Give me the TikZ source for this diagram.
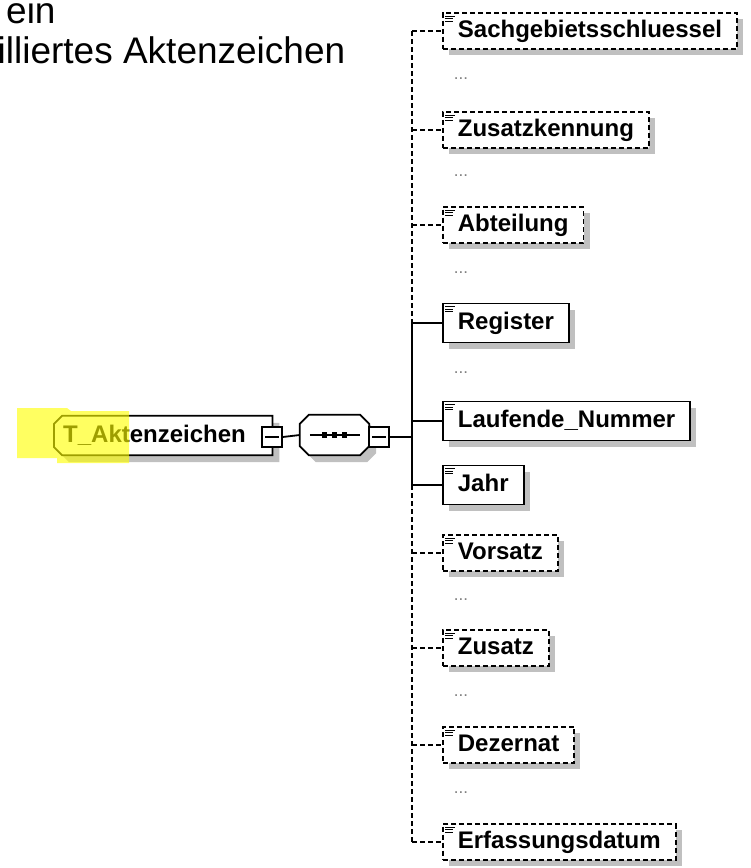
\documentclass[tikz,border=0pt]{standalone}
\usepackage{fontspec}
\setmainfont{Liberation Sans}
\usetikzlibrary{shadows,backgrounds}
\definecolor{shadowgray}{RGB}{192,192,192}
\definecolor{hlyellow}{RGB}{255,255,0}
\definecolor{dotgray}{RGB}{128,128,128}
\tikzset{
  conn/.style={line width=1.8pt},
  dconn/.style={line width=1.8pt, dash pattern=on 5pt off 3pt},
  shad/.style={drop shadow={shadow xshift=6pt, shadow yshift=-6pt, fill=shadowgray, opacity=1}},
  elembase/.style={anchor=west, fill=white, line width=1.8pt, minimum height=#1,
    inner xsep=0pt, inner ysep=0pt, text height=17pt, text depth=4pt,
    font=\bfseries\fontsize{24}{24}\selectfont, shad},
  optelem/.style={elembase=36pt, draw, dash pattern=on 5pt off 3pt},
  reqelem/.style={elembase=39pt, draw},
  dotsnode/.style={anchor=base, inner sep=0pt, text=dotgray, font=\fontsize{17}{17}\selectfont},
  titletext/.style={anchor=base west, inner sep=0pt, font=\fontsize{37}{37}\selectfont},
  rootbox/.style={minimum width=218pt, minimum height=39pt, inner sep=0pt, anchor=west,
    text height=17pt, text depth=4pt, font=\bfseries\fontsize{24}{24}\selectfont},
  seqbox/.style={minimum width=69pt, minimum height=40pt, inner sep=0pt},
  outline/.style={fill=white, draw=black, line width=1.8pt},
  rootshape/.style={insert path={([shift={(8+#1,#1)}]root.north west) -- ([shift={(#1,#1)}]root.north east)
    -- ([shift={(#1,#1)}]root.south east) -- ([shift={(8+#1,#1)}]root.south west)
    -- ([shift={(#1,-8+#1)}]root.south west) -- ([shift={(#1,8+#1)}]root.north west) -- cycle}},
  seqshape/.style={insert path={([shift={(9+#1,#1)}]seq.north west) -- ([shift={(-9+#1,#1)}]seq.north east)
    -- ([shift={(#1,9+#1)}]seq.north east) -- ([shift={(#1,-9+#1)}]seq.south east)
    -- ([shift={(-9+#1,#1)}]seq.south east) -- ([shift={(9+#1,#1)}]seq.south west)
    -- ([shift={(#1,-9+#1)}]seq.south west) -- ([shift={(#1,9+#1)}]seq.north west) -- cycle}},
  minusbox/.style={draw, fill=white, line width=1.5pt, minimum size=20pt, inner sep=0pt,
    path picture={\draw[line width=1.5pt] ([xshift=3pt]path picture bounding box.west) -- ([xshift=-3pt]path picture bounding box.east);}},
}
\newcommand\elemicon[1]{%
  \foreach \dy/\len in {4/10,6.5/8,9/8}
    \draw[line width=1.2pt] ([shift={(3,\dy)}]#1.north west) -- ++(\len,0);}
\begin{document}
\begin{tikzpicture}[x=1pt,y=-1pt]
\useasboundingbox (0,0) rectangle (751,868);
% title
\node[titletext] (t1) at (6,23) {ein};
\node[titletext] (t2) at (-2.5,63) {illiertes Aktenzeichen};
% root element
\node[rootbox] (root) at (54,435.5) {\makebox[218pt][l]{\hspace*{9pt}T\_Aktenzeichen}};
% sequence
\node[seqbox] (seq) at (334.5,435) {};
\begin{pgfonlayer}{background}
  \fill[shadowgray, rootshape=7];
  \path[outline, rootshape=0];
  \fill[shadowgray, seqshape=7];
  \path[outline, seqshape=0];
\end{pgfonlayer}
\fill[hlyellow, opacity=0.62] (17,408) -- (67,408) -- (71,411) -- (129,411) -- (129,463)
   -- (57,463) -- (57,458) -- (17,458) -- cycle;
\node[minusbox] (m1) at (272,437) {};
\draw[conn] ([xshift=10pt]seq.west) -- ([xshift=-9pt]seq.east);
\foreach \dx in {-10,0,10}
  \fill ([xshift=\dx pt]seq.center) +(-2.7,-2.7) rectangle +(2.7,2.7);
\node[minusbox] (m2) at (379,437) {};
\draw[conn] (m1.east) -- (seq.west);
\coordinate (vj) at (412,437);
\draw[conn] (m2.east) -- (vj);
% vertical connector coordinates
\coordinate (v1) at (412,31);
\coordinate (v2) at (412,130);
\coordinate (v3) at (412,225);
\coordinate (v4) at (412,323);
\coordinate (v5) at (412,421);
\coordinate (v6) at (412,485);
\coordinate (v7) at (412,553);
\coordinate (v8) at (412,648);
\coordinate (v9) at (412,745);
\coordinate (v10) at (412,842);
\draw[dconn] (v1) -- (v4);
\draw[conn] (v4) -- (v6);
\draw[dconn] (v6) -- (v10);
% elements
\node[optelem] (e1) at (442,31) {\hspace*{15pt}Sachgebietsschluessel\hspace*{15pt}};
\node[optelem] (e2) at (442,130) {\hspace*{15pt}Zusatzkennung\hspace*{15pt}};
\node[optelem] (e3) at (442,225) {\hspace*{15pt}Abteilung\hspace*{15pt}};
\node[reqelem] (e4) at (442,323) {\hspace*{15pt}Register\hspace*{15pt}};
\node[reqelem] (e5) at (442,421) {\hspace*{15pt}Laufende\_Nummer\hspace*{15pt}};
\node[reqelem] (e6) at (442,485) {\hspace*{15pt}Jahr\hspace*{15pt}};
\node[optelem] (e7) at (442,553) {\hspace*{15pt}Vorsatz\hspace*{15pt}};
\node[optelem] (e8) at (442,648) {\hspace*{15pt}Zusatz\hspace*{15pt}};
\node[optelem] (e9) at (442,745) {\hspace*{15pt}Dezernat\hspace*{15pt}};
\node[optelem] (e10) at (442,842) {\hspace*{15pt}Erfassungsdatum\hspace*{15pt}};
\foreach \n in {e1,e2,e3,e4,e5,e6,e7,e8,e9,e10} {\elemicon{\n}}
% connectors
\draw[dconn] (v1) -- (e1.west);
\draw[dconn] (v2) -- (e2.west);
\draw[dconn] (v3) -- (e3.west);
\draw[conn] (v4) -- (e4.west);
\draw[conn] (v5) -- (e5.west);
\draw[conn] (v6) -- (e6.west);
\draw[dconn] (v7) -- (e7.west);
\draw[dconn] (v8) -- (e8.west);
\draw[dconn] (v9) -- (e9.west);
\draw[dconn] (v10) -- (e10.west);
% ellipses
\node[dotsnode] (d1) at (461,79) {...};
\node[dotsnode] (d2) at (461,176) {...};
\node[dotsnode] (d3) at (461,273) {...};
\node[dotsnode] (d4) at (461,373) {...};
\node[dotsnode] (d7) at (461,600) {...};
\node[dotsnode] (d8) at (461,696) {...};
\node[dotsnode] (d9) at (461,793) {...};
\end{tikzpicture}
\end{document}
